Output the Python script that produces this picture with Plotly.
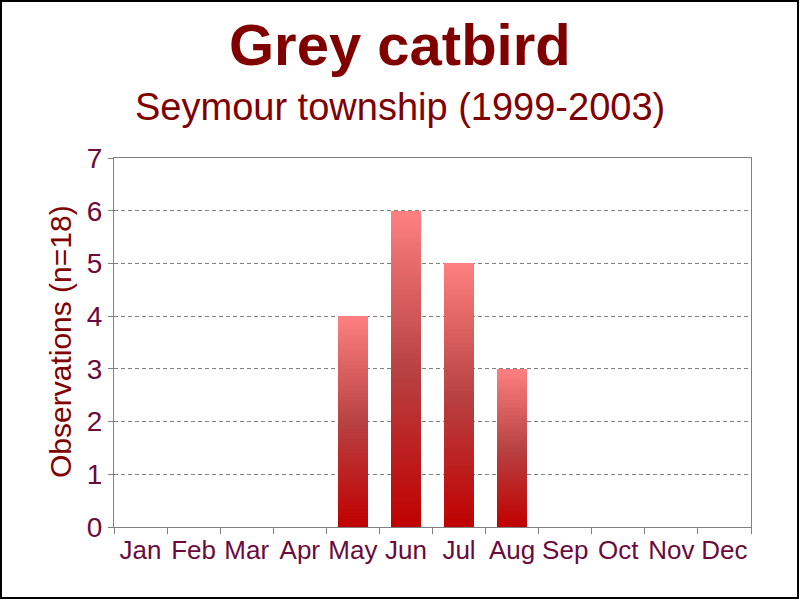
import plotly.graph_objects as go

months = ["Jan", "Feb", "Mar", "Apr", "May", "Jun", "Jul", "Aug", "Sep", "Oct", "Nov", "Dec"]
observations = [0, 0, 0, 0, 4, 6, 5, 3, 0, 0, 0, 0]
y_ticks = [0, 1, 2, 3, 4, 5, 6, 7]

title_text = "Grey catbird"
subtitle_text = "Seymour township (1999-2003)"
y_title = "Observations (n=18)"

# gradient stops (bottom -> middle -> top)
stops = [(0.0, (192, 0, 0)), (0.5, (184, 66, 66)), (1.0, (255, 128, 128))]


def grad(t):
    for (t0, c0), (t1, c1) in zip(stops[:-1], stops[1:]):
        if t <= t1:
            f = (t - t0) / (t1 - t0)
            return "rgb(%d,%d,%d)" % tuple(round(a + (b - a) * f) for a, b in zip(c0, c1))
    return "rgb(%d,%d,%d)" % stops[-1][1]


N = 60
fig = go.Figure()
for k in range(N):
    fig.add_trace(go.Bar(
        x=months,
        y=[v / N for v in observations],
        marker=dict(color=grad((k + 0.5) / N), line=dict(width=0)),
        hoverinfo="skip",
        showlegend=False,
    ))

L, R, T, B = 114, 49, 158, 73
W, H = 800, 600
pw, ph = W - L - R, H - T - B


def px_x(px):
    return (px - L) / pw


def px_y(py):
    return (H - B - py) / ph


fig.update_layout(
    width=W, height=H,
    barmode="stack",
    bargap=0.43,
    margin=dict(l=L, r=R, t=T, b=B),
    paper_bgcolor="white",
    plot_bgcolor="white",
    font=dict(family="Liberation Sans, Arial, sans-serif"),
    xaxis=dict(
        type="category",
        tickson="boundaries",
        tickangle=0,
        ticks="outside", ticklen=6, tickcolor="#808080",
        showline=True, linecolor="#808080", linewidth=1, mirror=True,
        showgrid=False,
        tickfont=dict(size=26, color="#6b0a3c"),
    ),
    yaxis=dict(
        range=[0, 7],
        tickvals=y_ticks,
        ticks="outside", ticklen=5, tickcolor="#808080",
        showline=True, linecolor="#808080", linewidth=1, mirror=True,
        showgrid=True, gridcolor="#808080", gridwidth=1, griddash="4px,3px",
        zeroline=False,
        tickfont=dict(size=28, color="#6b0a3c"),
    ),
    annotations=[
        dict(text="<b>" + title_text + "</b>", xref="paper", yref="paper",
             x=px_x(400), y=px_y(44), xanchor="center", yanchor="middle",
             showarrow=False, font=dict(size=58, color="#800000")),
        dict(text=subtitle_text, xref="paper", yref="paper",
             x=px_x(400), y=px_y(107), xanchor="center", yanchor="middle",
             showarrow=False, font=dict(size=38, color="#800000")),
        dict(text=y_title, xref="paper", yref="paper", textangle=-90,
             x=px_x(60), y=px_y(342), xanchor="center", yanchor="middle",
             showarrow=False, font=dict(size=30, color="#800000")),
    ],
    shapes=[
        dict(type="rect", xref="paper", yref="paper",
             x0=px_x(1), x1=px_x(798), y0=px_y(598), y1=px_y(1),
             line=dict(color="black", width=2), fillcolor="rgba(0,0,0,0)"),
    ],
)

fig.write_html(
    "out.html",
    config={"displayModeBar": False},
    post_script="document.body.style.margin='0';document.body.style.overflow='hidden';",
)
